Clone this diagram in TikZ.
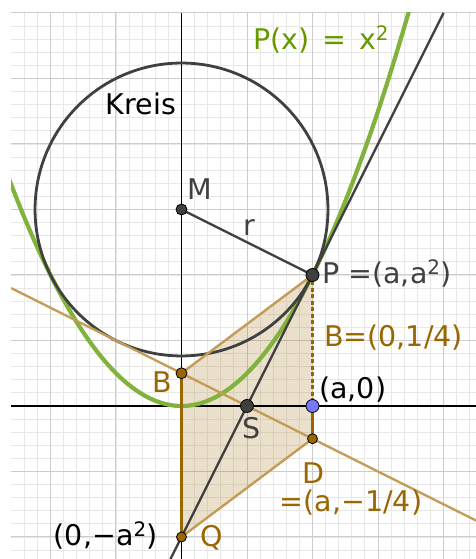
\documentclass[tikz,border=0pt]{standalone}
\usepackage{fontspec}
\setmainfont{DejaVu Sans}
\definecolor{gridmin}{RGB}{232,232,232}
\definecolor{gridmaj}{RGB}{204,204,204}
\definecolor{dgray}{RGB}{64,64,64}
\definecolor{pgreen}{RGB}{128,178,60}
\definecolor{tgreen}{RGB}{102,153,0}
\definecolor{tanl}{RGB}{196,156,86}
\definecolor{brownd}{RGB}{153,102,0}
\definecolor{bluept}{RGB}{120,120,255}
\tikzset{
  lbl/.style={inner sep=0pt, font=\fontsize{28.5}{33}\selectfont},
  ptdot/.style={circle, draw=black, line width=0.8pt, minimum size=#1, inner sep=0pt},
  tanline/.style={tanl, line width=2.4pt},
  brownline/.style={brownd, line width=2.2pt},
}
\begin{document}
\begin{tikzpicture}[x=131pt,y=131pt]
\useasboundingbox (-1.3855,-1.168) rectangle (2.2481,3.0992);
\coordinate (M) at (0,1.5);
\coordinate (P) at (1,1);
\coordinate (B) at (0,0.25);
\coordinate (D) at (1,-0.25);
\coordinate (Q) at (0,-1);
\coordinate (A) at (1,0);
\coordinate (S) at (0.5,0);
\coordinate (L1) at (-1.3,0.9);
\coordinate (L2) at (2.2481,-0.874);
\coordinate (T1) at (-0.084,-1.168);
\coordinate (T2) at (2,3);
\coordinate (XL) at (-1.3,0);
\coordinate (XR) at (2.2481,0);
\coordinate (YB) at (0,-1.168);
\coordinate (YT) at (0,3);
\begin{scope}
\clip (-1.3,-1.168) rectangle (2.2481,3.0);
\draw[gridmin, line width=0.9pt] (-1.3,-1.2) grid[step=0.1] (2.3,3.0);
\draw[gridmaj, line width=1pt] (-1.3,-1.2) grid[step=0.5] (2.3,3.0);
\fill[brownd, fill opacity=0.2] (B) -- (P) -- (D) -- (Q) -- cycle;
\draw[black, line width=1.4pt] (YB) -- (YT);
\draw[black, line width=2.2pt] (XL) -- (XR);
\draw[pgreen, line width=4.2pt] plot[domain=-1.36:1.74, samples=120] (\x,{\x*\x});
\draw[dgray, line width=2.8pt] (M) circle[radius=1.1180];
\draw[tanline] (L1) -- (L2);
\draw[tanline] (B) -- (P);
\draw[tanline] (Q) -- (D);
\draw[dgray, line width=2.4pt] (T1) -- (T2);
\draw[dgray, line width=2.4pt] (M) -- (P);
\draw[brownline] (B) -- (Q);
\draw[brownline] (A) -- (D);
\draw[brownd, line width=2.6pt, dash pattern=on 4pt off 2.5pt] (P) -- (A);
\end{scope}
\node[ptdot=11pt, fill=dgray] (Mp) at (M) {};
\node[ptdot=13pt, fill=dgray] (Pp) at (P) {};
\node[ptdot=13pt, fill=dgray] (Sp) at (S) {};
\node[ptdot=11pt, fill=brownd] (Bp) at (B) {};
\node[ptdot=10pt, fill=brownd] (Dp) at (D) {};
\node[ptdot=10pt, fill=brownd] (Qp) at (Q) {};
\node[ptdot=13pt, fill=bluept] (Ap) at (A) {};
\node[lbl, black] (kreis) at (-0.309,2.305) {Kreis};
\node[lbl, tgreen, anchor=west] (px) at (0.546,2.80) {P(x)\hspace{0.45em}=\hspace{0.45em}x\textsuperscript{2}};
\node[lbl, dgray] (mlab) at (0.141,1.656) {M};
\node[lbl, dgray] (rlab) at (0.515,1.359) {r};
\node[lbl, dgray, anchor=west] (plab) at (1.073,1.008) {P =(a,a\textsuperscript{2})};
\node[lbl, brownd, anchor=west] (blab2) at (1.088,0.519) {B=(0,1/4)};
\node[lbl, black, anchor=west] (alab) at (1.05,0.128) {(a,0)};
\node[lbl, dgray] (slab) at (0.538,-0.168) {S};
\node[lbl, brownd] (dlab) at (1.004,-0.511) {D};
\node[lbl, brownd] (dlab2) at (1.294,-0.740) {=(a,−1/4)};
\node[lbl, brownd] (blab) at (-0.149,0.183) {B};
\node[lbl, brownd] (qlab) at (0.233,-1.008) {Q};
\node[lbl, black, anchor=east] (qlab2) at (-0.179,-0.985) {(0,−a\textsuperscript{2})};
\end{tikzpicture}
\end{document}
